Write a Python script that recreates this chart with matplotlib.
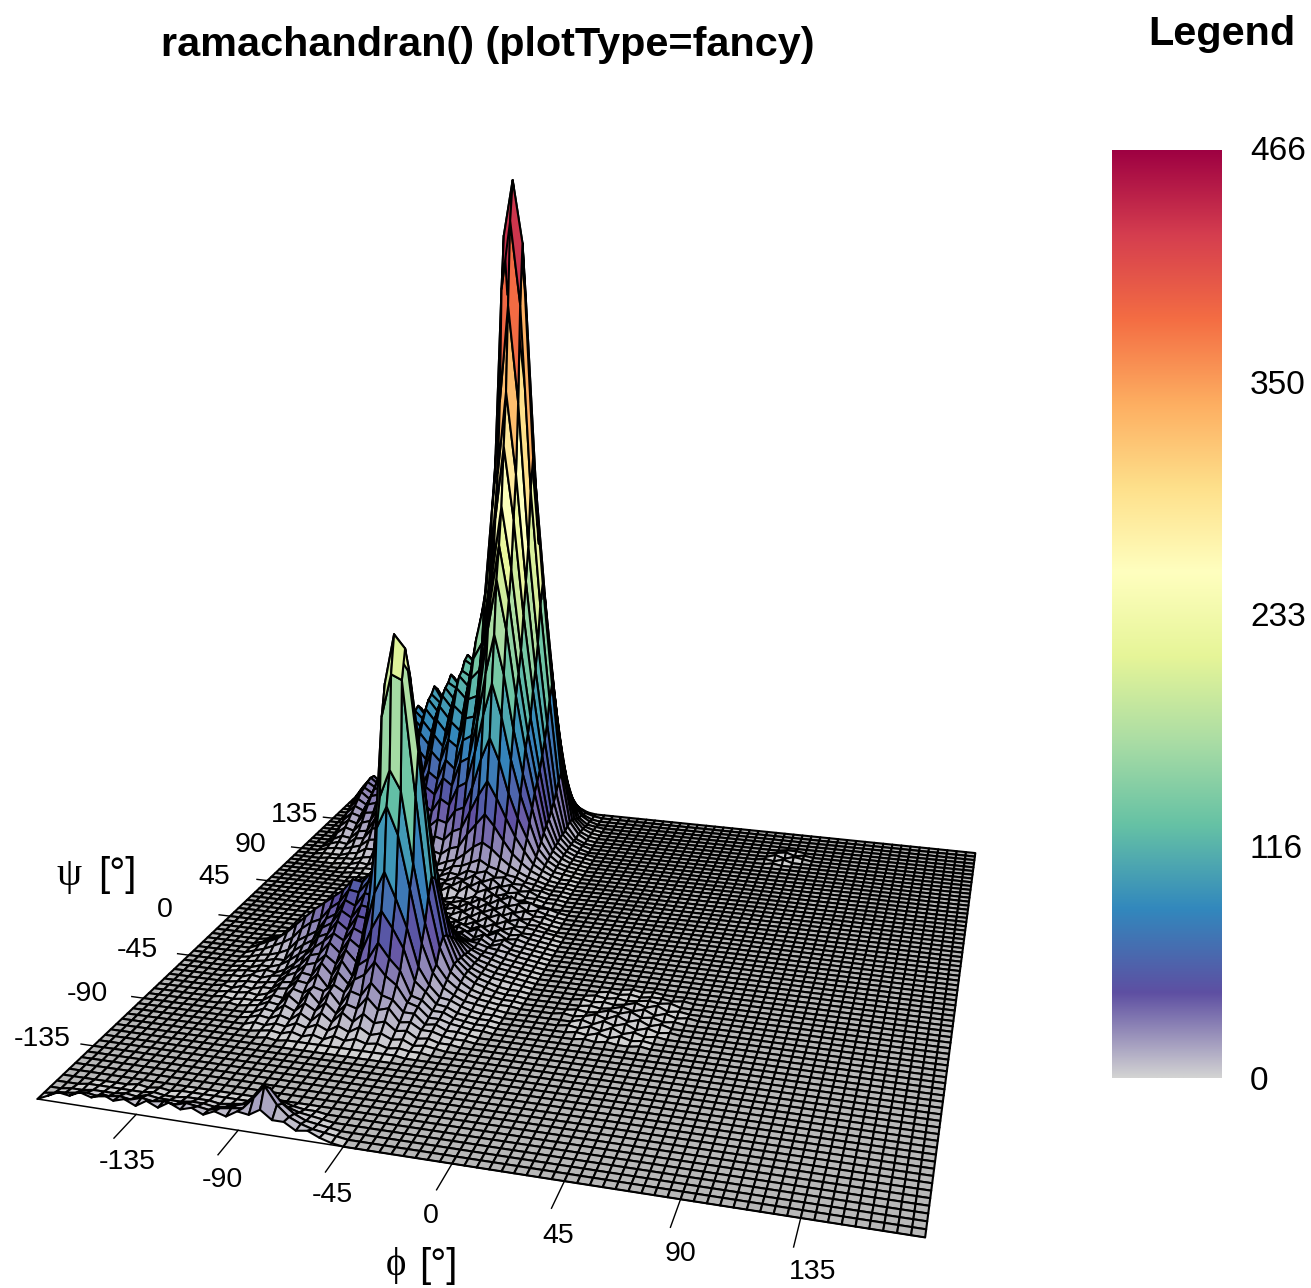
import numpy as np, matplotlib
matplotlib.use('Agg')
import matplotlib.pyplot as plt
from matplotlib.colors import LinearSegmentedColormap, Normalize

W, H = 1311, 1288
TITLE = "ramachandran() (plotType=fancy)"
TICKS = [-135, -90, -45, 0, 45, 90, 135]
LEGEND_LABELS = [0, 116, 233, 350, 466]
COLOURS = ['#D3D3D3', '#5E4FA2', '#3288BD', '#66C2A5', '#ABDDA4', '#E6F598',
           '#FFFFBF', '#FEE08B', '#FDAE61', '#F46D43', '#D53E4F', '#9E0142']
phi = np.arange(-180, 181, 5)
psi = np.arange(-180, 181, 5)

wrap_heights = [
 [0,3,6,5,8,6,9,6,8,5,9,6,10,7,9,6,9,7,11,10,14,9,9,5,6,3,1,0],
 [0,1,2,3,4,3,4,5,4,6,5,6,5,7,6,5,7,8,9,16,24,14,8,5,3,2,1,0],
 [0,0,1,1,2,2,2,3,2,4,3,3,3,4,4,3,4,6,8,14,19,11,6,3,2,1,0,0],
 [0,0,0,1,1,1,1,1,1,2,1,1,2,2,2,1,2,3,4,7,9,5,3,2,1,0,0,0],
 [0,0,0,0,0,0,0,1,0,1,0,1,1,1,1,1,1,1,2,3,4,2,1,1,0,0,0,0],
]
alpha_left_heights = [
 [0,0,1,0,1],[0,1,0,1,1],[0,1,1,2,1],[1,0,2,1,3],[0,1,2,2,3],[1,1,3,2,4],
 [1,2,2,4,3],[1,1,3,3,5],[1,2,3,5,5],[1,3,4,6,9],[2,4,7,10,14],[3,6,9,14,20],
 [2,5,8,12,16],[1,3,5,7,9],[0,1,2,3,3],[0,1,1,1,2],[0,0,1,0,1],
]
alpha_heights = [
 [0,0,0,1,0,1,1,1,1,1,1,1,1,1,1,1,0,0,0,0,0,0,0],
 [0,0,1,2,1,3,1,3,1,4,2,4,2,3,1,2,1,1,0,0,0,0,0],
 [0,2,1,3,2,5,3,6,3,7,4,8,4,6,3,4,1,2,1,0,0,0,0],
 [1,3,2,5,3,8,4,10,5,12,7,13,8,10,5,6,2,3,1,1,0,0,0],
 [1,4,3,8,5,11,7,13,7,14,12,20,13,15,7,8,4,4,2,1,1,0,0],
 [2,5,4,11,6,15,8,17,9,19,17,26,19,17,10,10,4,5,2,2,1,0,0],
 [2,6,5,12,10,15,13,18,14,23,27,36,28,23,13,11,5,5,3,2,1,1,0],
 [3,7,8,14,13,20,12,23,16,29,34,45,36,29,14,12,6,6,3,2,1,1,0],
 [3,8,9,16,15,24,17,27,18,35,50,62,52,40,20,14,7,6,3,2,1,1,0],
 [4,9,12,18,20,26,21,31,24,46,70,84,68,50,26,15,8,7,4,2,1,1,0],
 [5,10,14,21,23,31,25,35,30,60,108,122,105,72,38,20,11,7,4,3,2,1,0],
 [6,11,17,23,28,34,30,39,36,70,125,142,130,85,48,22,13,8,5,3,2,1,1],
 [9,14,18,27,30,39,34,44,43,95,172,198,195,125,62,30,15,9,5,3,2,1,1],
 [12,17,21,30,34,43,39,48,47,105,190,220,212,150,72,34,17,10,6,4,2,1,1],
 [16,20,24,33,37,47,44,53,52,100,172,205,195,135,68,32,16,10,6,4,2,1,1],
 [21,26,29,37,42,51,50,58,56,92,150,175,160,110,60,28,15,9,6,4,3,2,1],
 [26,32,37,42,47,55,54,62,60,82,118,135,120,85,46,24,14,9,6,4,3,2,1],
 [22,27,31,36,43,51,55,60,54,70,85,95,85,60,34,20,12,8,6,4,3,2,1],
 [12,15,18,26,29,40,45,52,46,54,60,65,58,42,26,16,11,8,6,4,3,2,1],
 [6,8,10,15,18,27,31,38,33,38,38,40,36,28,18,13,9,7,6,4,3,2,1],
 [1,3,4,8,12,16,22,24,24,24,24,24,22,18,13,10,9,7,6,5,3,2,1],
 [1,1,3,4,6,9,12,14,14,15,14,14,14,12,11,7,9,5,7,4,3,2,1],
 [0,1,1,2,3,5,7,8,8,9,9,9,10,7,10,6,9,5,7,4,3,2,1],
 [0,0,1,1,2,3,3,4,5,5,6,7,6,9,6,9,5,8,4,5,3,2,1],
 [0,0,0,1,1,1,2,2,3,3,4,5,4,8,5,8,4,7,4,5,3,2,1],
 [0,0,0,0,1,1,1,1,2,2,4,3,6,4,7,4,7,4,6,3,3,2,1],
 [0,0,0,0,0,1,1,1,1,3,2,5,3,7,4,8,4,7,4,4,3,2,1],
]
bridge_heights = [
 [2,4,3,5,4,7,4,8,5,8,4,6,3,3,1],
 [2,3,4,4,6,4,8,5,8,4,7,3,4,2,1],
 [1,3,2,5,3,7,4,8,5,8,4,6,3,3,1],
 [1,2,3,3,5,4,8,5,9,5,7,3,4,2,1],
 [1,2,2,4,3,6,4,9,6,9,5,6,3,3,1],
]
beta_heights = [
 [0,0,0,0,0,0,0,0,1,1,1,2,2,3,3,5,4,8,5,10,6,9,5,7,3,4,2,1,0],
 [0,0,0,0,0,0,0,1,1,1,2,2,3,3,5,4,7,6,10,7,11,6,9,5,6,3,3,1,1],
 [0,0,0,0,0,0,1,1,1,2,2,3,3,5,4,7,6,9,8,12,8,11,6,8,4,5,2,1,1],
 [0,0,0,0,0,1,1,1,2,2,3,3,5,4,6,6,9,8,12,11,13,9,10,6,6,3,3,1,1],
 [0,0,0,0,1,1,2,2,3,3,4,4,5,5,7,7,11,12,15,18,14,12,9,8,5,4,2,1,1],
 [0,0,0,1,1,3,2,5,4,7,5,8,7,9,8,11,13,18,24,28,24,18,13,9,6,4,2,1,1],
 [0,1,1,2,2,4,5,8,7,11,9,13,11,15,13,18,20,30,38,46,38,28,19,13,8,5,2,1,1],
 [1,1,1,3,4,8,8,13,12,17,15,20,18,23,21,28,31,44,57,68,56,42,29,19,10,6,3,1,1],
 [2,3,3,5,7,12,13,20,18,25,22,29,27,33,31,41,44,60,81,97,81,58,40,26,13,7,3,2,1],
 [3,5,4,9,10,18,19,28,25,34,30,40,36,46,42,56,60,83,111,134,111,80,55,35,16,8,4,2,1],
 [4,7,6,12,13,23,25,36,32,44,38,51,46,59,54,72,76,104,139,167,139,100,68,43,19,9,4,2,1],
 [6,11,9,16,18,28,30,41,39,52,46,60,55,70,64,86,90,124,169,204,169,122,84,52,23,10,5,2,1],
 [9,14,12,21,22,35,36,51,47,63,56,73,66,83,78,100,102,138,188,226,188,136,93,58,26,11,5,2,1],
 [11,17,15,25,27,40,42,59,54,72,64,83,75,94,88,112,115,152,209,252,209,151,103,64,28,11,5,2,1],
 [14,20,17,29,31,46,48,66,61,81,73,92,84,104,98,125,132,175,242,292,242,175,120,73,32,12,5,2,1],
 [16,23,19,32,34,51,53,73,68,88,80,100,92,115,108,138,150,200,272,328,272,197,134,82,36,12,5,2,0],
 [18,26,21,36,37,58,58,80,75,95,87,106,98,122,115,150,178,245,320,385,320,221,151,92,41,12,5,2,0],
 [20,27,23,38,39,60,60,85,79,100,92,110,102,124,120,155,190,262,395,440,385,259,177,108,47,13,4,1,0],
 [21,29,25,40,41,62,64,88,82,102,96,112,108,130,126,160,200,270,430,466,425,280,191,117,51,14,5,1,0],
 [22,30,25,41,40,64,62,90,82,106,95,116,108,132,125,158,190,255,390,445,390,258,176,108,47,13,4,1,0],
 [22,29,23,39,38,60,58,86,78,102,92,112,104,128,122,152,160,215,299,360,299,216,148,90,40,11,4,1,0],
 [20,24,23,32,39,50,60,72,77,88,90,103,108,121,120,140,150,175,241,290,241,174,119,72,32,9,3,1,0],
 [18,22,21,29,35,45,54,65,70,79,82,94,98,110,112,128,135,145,183,220,183,132,90,55,24,7,2,1,0],
 [15,19,18,26,30,40,47,58,61,70,72,82,85,96,100,115,120,122,133,160,133,96,66,40,18,6,2,0,0],
 [12,15,14,20,24,31,37,45,48,55,56,64,67,76,81,95,96,96,100,110,91,66,45,28,12,4,1,0,0],
 [8,11,10,15,17,23,27,33,35,40,41,47,49,55,59,69,71,72,70,72,60,42,29,18,8,3,1,0,0],
 [4,6,5,8,8,12,13,17,17,21,20,24,24,28,29,35,36,37,38,40,33,24,16,10,4,1,0,0,0],
]
patch_heights = [
 [0,0,0,1,0,1,0,0,1,0,0,0],
 [0,0,1,0,2,0,2,0,1,0,0,0],
 [0,1,0,2,0,3,0,2,0,1,0,0],
 [0,0,2,0,3,1,3,0,2,0,1,0],
 [1,0,1,3,1,4,1,3,0,2,0,0],
 [0,1,0,1,3,2,4,1,2,0,1,0],
 [0,0,1,0,1,3,1,3,0,2,0,1],
 [0,1,0,1,0,1,3,1,3,0,1,0],
 [0,0,1,0,1,0,1,2,1,2,0,0],
 [0,0,0,1,0,1,0,1,1,0,1,0],
 [0,0,0,0,0,1,0,1,0,0,0,0],
]
far_patch_heights = [
 [0,1,0,0,0],
 [1,0,2,0,0],
 [0,2,0,2,1],
 [0,1,2,0,1],
 [0,0,1,1,0],
]

def paste(Z, first_phi, first_psi, rows):
    rows = np.array(rows, float)
    i0 = (first_phi + 180) // 5
    j0 = (first_psi + 180) // 5
    block = Z[i0:i0 + rows.shape[1], j0:j0 + rows.shape[0]]
    block[:] = np.maximum(block, rows.T)

Z = np.zeros((len(phi), len(psi)))
paste(Z, -180, -180, wrap_heights)
paste(Z, -150, -85, alpha_left_heights)
paste(Z, -125, -110, alpha_heights)
paste(Z, -90, 25, bridge_heights)
paste(Z, -165, 50, beta_heights)
paste(Z, 10, -75, patch_heights)
paste(Z, 70, 135, far_patch_heights)

plt.rcParams['font.family'] = ['Liberation Sans', 'DejaVu Sans']
cmap = LinearSegmentedColormap.from_list('rama', COLOURS, N=512)
norm = Normalize(0, 466)

fig = plt.figure(figsize=(W / 100, H / 100), dpi=100)
ax = fig.add_axes([0, 0, 1, 1], projection='3d', computed_zorder=False)
ax.set_xlim(-180, 180); ax.set_ylim(-180, 180); ax.set_zlim(0, 466)
ax.set_axis_off()
ax.patch.set_alpha(0)
ax.view_init(15.0987, -74.8941)
ax.set_proj_type('persp', focal_length=0.2474)
ax.set_box_aspect((1, 1, 0.9976), zoom=1)
s, tx, ty = 7198.17, 573.51, 597.59
x0, x1 = ax.viewLim.intervalx; y0, y1 = ax.viewLim.intervaly
ax.set_position([(tx + s*x0)/W, (H - ty + s*y0)/H, s*(x1-x0)/W, s*(y1-y0)/H])

X, Y = np.meshgrid(phi, psi, indexing='ij')
mean_z = (Z[:-1,:-1] + Z[1:,:-1] + Z[:-1,1:] + Z[1:,1:]) / 4
face_rgba = cmap(norm(mean_z))
face_rgba[mean_z < 0.5] = (0.72, 0.72, 0.72, 1)
surf = ax.plot_surface(X, Y, Z, facecolors=face_rgba, rstride=1, cstride=1,
                       shade=False, edgecolor='black', linewidth=1.5, antialiased=True, zorder=1)
surf.set_clip_on(False)
ax.plot([-180, 180], [-180, -180], [0, 0], color='black', lw=1.1, zorder=2, clip_on=False)
for t in TICKS:
    ax.plot([t, t], [-180, -198], [0, 0], color='black', lw=1, zorder=2, clip_on=False)
    ax.plot([-180, -186], [t, t], [0, 0], color='black', lw=1, zorder=2, clip_on=False)

def put(x, y, txt, **kw):
    kw.setdefault('ha', 'center'); kw.setdefault('va', 'center')
    fig.text(x / W, 1 - y / H, txt, **kw)
put(488, 45, TITLE, fontsize=29.8, fontweight='bold')
put(1222, 34, 'Legend', fontsize=29.8, fontweight='bold')
phi_lab = [(127,1162),(222,1180),(332,1195),(431,1216),(558,1236),(680,1254),(813,1272)]
psi_lab = [(42,1039),(87,994),(137,950),(165,910),(214,877),(251,845),(295,815)]
for t, a, b in zip(TICKS, phi_lab, psi_lab):
    put(a[0], a[1], str(t), fontsize=20.5)
    put(b[0], b[1], str(t), fontsize=20.5)
put(69, 876, '\u03c8', fontsize=29, family=['Liberation Serif', 'DejaVu Serif'])
put(117, 875, '[\u00b0]', fontsize=29)
put(396, 1265, '\u03d5', fontsize=28, family=['Liberation Serif', 'DejaVu Serif'])
put(438, 1266, '[\u00b0]', fontsize=29)

cax = fig.add_axes([1112 / W, 1 - 1078 / H, 110 / W, 928 / H])
cax.imshow(np.linspace(1, 0, 512)[:, None], cmap=cmap, aspect='auto', vmin=0, vmax=1)
cax.set_axis_off()
for val, yy in zip(LEGEND_LABELS, [1082, 849, 617, 385, 152]):
    put(1250, yy, str(val), fontsize=24, ha='left')
fig.savefig('out.png', dpi=100)
